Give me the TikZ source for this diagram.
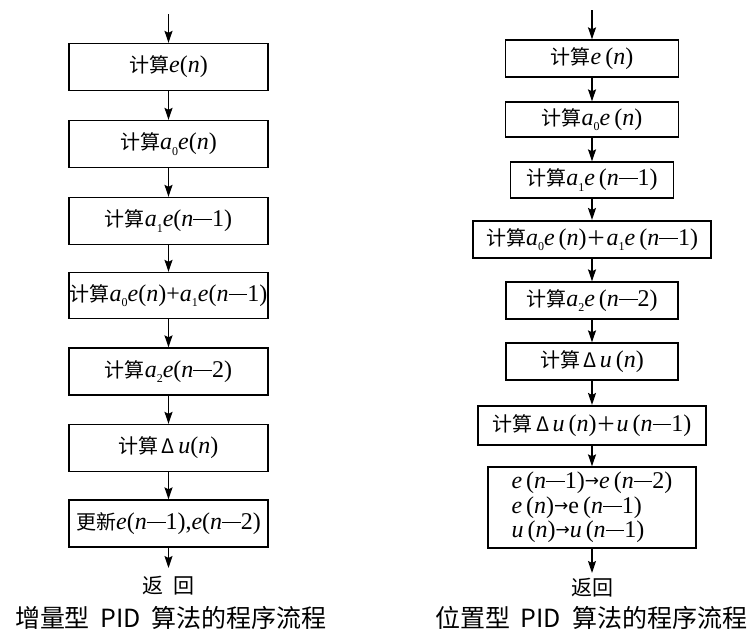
\documentclass[tikz,border=0pt]{standalone}
\usepackage{fontspec}
\setmainfont{Liberation Serif}
\newfontfamily\cjk{Noto Sans CJK SC}
\newfontfamily\symfont{DejaVu Sans}
\usetikzlibrary{arrows.meta}
\newcommand\zh[1]{{\cjk\fontsize{20}{24}\selectfont #1}}
\newcommand\mi[1]{\textit{#1}}
\newcommand\sbs[1]{\raisebox{-0.22em}{\fontsize{12}{12}\selectfont #1}}
\newcommand\mydash{\raisebox{0.27em}{\rule{0.78em}{0.042em}}}
\newcommand\myarr{{\symfont\fontsize{17}{17}\selectfont\raisebox{0.12em}{→}}}
\tikzset{
  box/.style={draw, line width=1.3pt, inner sep=0pt, font=\fontsize{24}{26}\selectfont, align=center},
  thick box/.style={box, line width=2.1pt},
  arr/.style={line width=1.5pt, -{Stealth[length=12pt,width=8pt,inset=2pt]}},
  ret/.style={inner sep=0pt, font=\cjk\fontsize{21}{24}\selectfont},
  captext/.style={inner sep=0pt, font=\cjk\fontsize{25}{28}\selectfont}
}
\begin{document}
\begin{tikzpicture}[x=1pt,y=-1pt]
\useasboundingbox (0,0) rectangle (755,632);
% ---------------- left column ----------------
\coordinate (Ls) at (168.5,14);
\node[box, minimum width=199pt, minimum height=47pt] (L1) at (168.5,67) {\zh{计算}\mi{e}(\mi{n})};
\node[box, minimum width=199pt, minimum height=47pt] (L2) at (168.5,144) {\zh{计算}\mi{a}\sbs{0}\mi{e}(\mi{n})};
\node[box, minimum width=199pt, minimum height=47pt] (L3) at (168.5,221) {\zh{计算}\mi{a}\sbs{1}\mi{e}(\mi{n}\mydash 1)};
\node[box, minimum width=199pt, minimum height=46pt] (L4) at (168.5,295.5) {\zh{计算}\mi{a}\sbs{0}\mi{e}(\mi{n})+\mi{a}\sbs{1}\mi{e}(\mi{n}\mydash 1)};
\node[box, minimum width=199pt, minimum height=47pt] (L5) at (168.5,371.5) {\zh{计算}\mi{a}\sbs{2}\mi{e}(\mi{n}\mydash 2)};
\node[box, minimum width=199pt, minimum height=47pt] (L6) at (168.5,448) {\zh{计算\,Δ\,}\mi{u}(\mi{n})};
\node[box, minimum width=199pt, minimum height=47pt] (L7) at (168.5,523.5) {\zh{更新}\mi{e}(\mi{n}\mydash 1),\mi{e}(\mi{n}\mydash 2)};
\coordinate (Le) at (168.5,568);
\node[ret] (Lr) at (168.5,586) {返\hspace{10pt}回};
\node[captext] (Lc) at (171,618) {增量型\makebox[62pt]{PID}算法的程序流程};
\draw[arr] (Ls) -- (L1);
\draw[arr] (L1) -- (L2);
\draw[arr] (L2) -- (L3);
\draw[arr] (L3) -- (L4);
\draw[arr] (L4) -- (L5);
\draw[arr] (L5) -- (L6);
\draw[arr] (L6) -- (L7);
\draw[arr] (L7) -- (Le);
% ---------------- right column ----------------
\coordinate (Rs) at (592,10);
\node[box, minimum width=173pt, minimum height=37pt] (R1) at (592,58.5) {\zh{计算}\mi{e}\,(\mi{n})};
\node[box, minimum width=173pt, minimum height=35pt] (R2) at (592,119.5) {\zh{计算}\mi{a}\sbs{0}\mi{e}\,(\mi{n})};
\node[box, minimum width=163pt, minimum height=36pt] (R3) at (592,180) {\zh{计算}\mi{a}\sbs{1}\mi{e}\,(\mi{n}\mydash 1)};
\node[thick box, minimum width=238pt, minimum height=37pt] (R4) at (592,239.5) {\zh{计算}\mi{a}\sbs{0}\mi{e}\,(\mi{n})\zh{＋}\mi{a}\sbs{1}\mi{e}\,(\mi{n}\mydash 1)};
\node[box, minimum width=172pt, minimum height=37pt] (R5) at (592,300.5) {\zh{计算}\mi{a}\sbs{2}\mi{e}\,(\mi{n}\mydash 2)};
\node[box, minimum width=172pt, minimum height=37pt] (R6) at (592,361.5) {\zh{计算\,Δ\,}\mi{u}\,(\mi{n})};
\node[thick box, minimum width=228pt, minimum height=39pt] (R7) at (592,425.5) {\zh{计算\,Δ\,}\mi{u}\,(\mi{n})\zh{＋}\mi{u}\,(\mi{n}\mydash 1)};
\node[box, minimum width=208pt, minimum height=81pt, align=left, font=\fontsize{24}{24.5}\selectfont] (R8) at (592,507.5)
  {\mi{e}\,(\mi{n}\mydash 1)\myarr\mi{e}\,(\mi{n}\mydash 2)\\
   \mi{e}\,(\mi{n})\myarr e\,(\mi{n}\mydash 1)\\
   \mi{u}\,(\mi{n})\myarr\mi{u}\,(\mi{n}\mydash 1)};
\coordinate (Re) at (592,573);
\node[ret] (Rr) at (592,588) {返回};
\node[captext] (Rc) at (591,618) {位置型\makebox[62pt]{PID}算法的程序流程};
\draw[arr] (Rs) -- (R1);
\draw[arr] (R1) -- (R2);
\draw[arr] (R2) -- (R3);
\draw[arr] (R3) -- (R4);
\draw[arr] (R4) -- (R5);
\draw[arr] (R5) -- (R6);
\draw[arr] (R6) -- (R7);
\draw[arr] (R7) -- (R8);
\draw[arr] (R8) -- (Re);
\end{tikzpicture}
\end{document}
